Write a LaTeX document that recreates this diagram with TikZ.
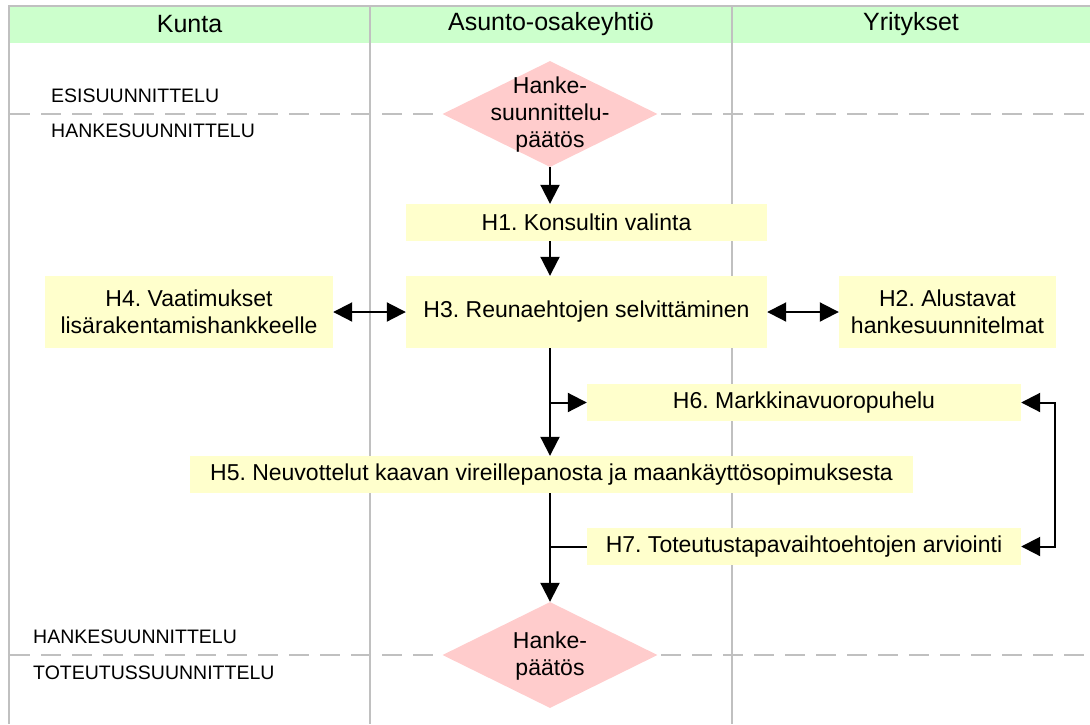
\documentclass[tikz,border=0pt]{standalone}
\usepackage{fontspec}
\setmainfont{Liberation Sans}
\frenchspacing
\usetikzlibrary{arrows.meta,shapes.geometric}
\definecolor{hdrgreen}{RGB}{204,255,204}
\definecolor{boxyellow}{RGB}{255,255,204}
\definecolor{diapink}{RGB}{255,204,204}
\definecolor{lanegray}{RGB}{192,192,192}
\tikzset{
  lane/.style={draw=lanegray, line width=2pt},
  phase/.style={draw=lanegray, line width=2pt, dash pattern=on 20pt off 11pt},
  hdr/.style={font=\fontsize{25}{29}\selectfont, inner sep=0pt},
  phaselbl/.style={font=\fontsize{19.5}{23}\selectfont, inner sep=0pt, anchor=base west},
  task/.style={fill=boxyellow, draw=none, inner sep=0pt, align=center,
    font=\fontsize{23}{27}\selectfont},
  decision/.style={diamond, fill=diapink, draw=none, inner sep=0pt,
    minimum width=215pt, minimum height=106pt},
  dtext/.style={align=center, inner sep=0pt, font=\fontsize{23}{27}\selectfont},
  flow/.style={line width=2pt, -{Triangle[length=19pt,width=19pt]}},
  flow2/.style={line width=2pt, {Triangle[length=19pt,width=19pt]}-{Triangle[length=19pt,width=19pt]}},
  plain/.style={line width=2pt}
}
\begin{document}
\begin{tikzpicture}[x=1pt,y=-1pt]
\useasboundingbox (0,0) rectangle (1090,724);
% header
\fill[hdrgreen] (9,7) rectangle (1090,42.5);
\draw[lane] (8,6) -- (1090,6);
\draw[lane] (9,6) -- (9,724);
\draw[lane] (370,6) -- (370,724);
\draw[lane] (732,6) -- (732,724);
\node[hdr] (hk) at (189.5,24.5) {Kunta};
\node[hdr] (ha) at (551,24.5) {Asunto-osakeyhtiö};
\node[hdr] (hy) at (911,24.5) {Yritykset};
% phase separators
\draw[phase] (10,114) -- (1090,114);
\draw[phase] (10,655) -- (1090,655);
\node[phaselbl] (p1) at (51,102) {ESISUUNNITTELU};
\node[phaselbl] (p2) at (51,137) {HANKESUUNNITTELU};
\node[phaselbl] (p3) at (33,643) {HANKESUUNNITTELU};
\node[phaselbl] (p4) at (33,679) {TOTEUTUSSUUNNITTELU};
% decisions
\node[decision] (d1) at (550,114) {};
\node[dtext] (d1t) at (550,115) {Hanke-\\suunnittelu-\\päätös};
\node[decision] (d2) at (550,655) {};
\node[dtext] (d2t) at (550,656) {Hanke-\\päätös};
% tasks
\node[task, minimum width=361pt, minimum height=37pt] (h1) at (586.5,222.5) {H1. Konsultin valinta};
\node[task, minimum width=361pt, minimum height=72pt] (h3) at (586.5,312) {H3. Reunaehtojen selvittäminen};
\node[task, minimum width=288pt, minimum height=72pt] (h4) at (189,312) {H4. Vaatimukset\\lisärakentamishankkeelle};
\node[task, minimum width=217pt, minimum height=72pt] (h2) at (947.5,312) {H2. Alustavat\\hankesuunnitelmat};
\node[task, minimum width=434pt, minimum height=37pt] (h6) at (804,402.5) {H6. Markkinavuoropuhelu};
\node[task, minimum width=723pt, minimum height=37pt] (h5) at (551.5,474.5) {H5. Neuvottelut kaavan vireillepanosta ja maankäyttösopimuksesta};
\node[task, minimum width=434pt, minimum height=37pt] (h7) at (804,546.5) {H7. Toteutustapavaihtoehtojen arviointi};
% connectors
\draw[flow] (d1.south) -- (d1.south |- h1.north);
\draw[flow] (d1.south |- h1.south) -- (d1.south |- h3.north);
\draw[flow] (d1.south |- h3.south) -- (d1.south |- h5.north);
\draw[flow] (d1.south |- h6.west) -- (h6.west);
\draw[flow] (d1.south |- h5.south) -- (d2.north);
\draw[plain] (h7.west) -- (d1.south |- h7.west);
\draw[flow2] (h4.east) -- (h3.west);
\draw[flow2] (h3.east) -- (h2.west);
\draw[flow2] (h6.east) -- ++(34,0) |- (h7.east);
\end{tikzpicture}
\end{document}
